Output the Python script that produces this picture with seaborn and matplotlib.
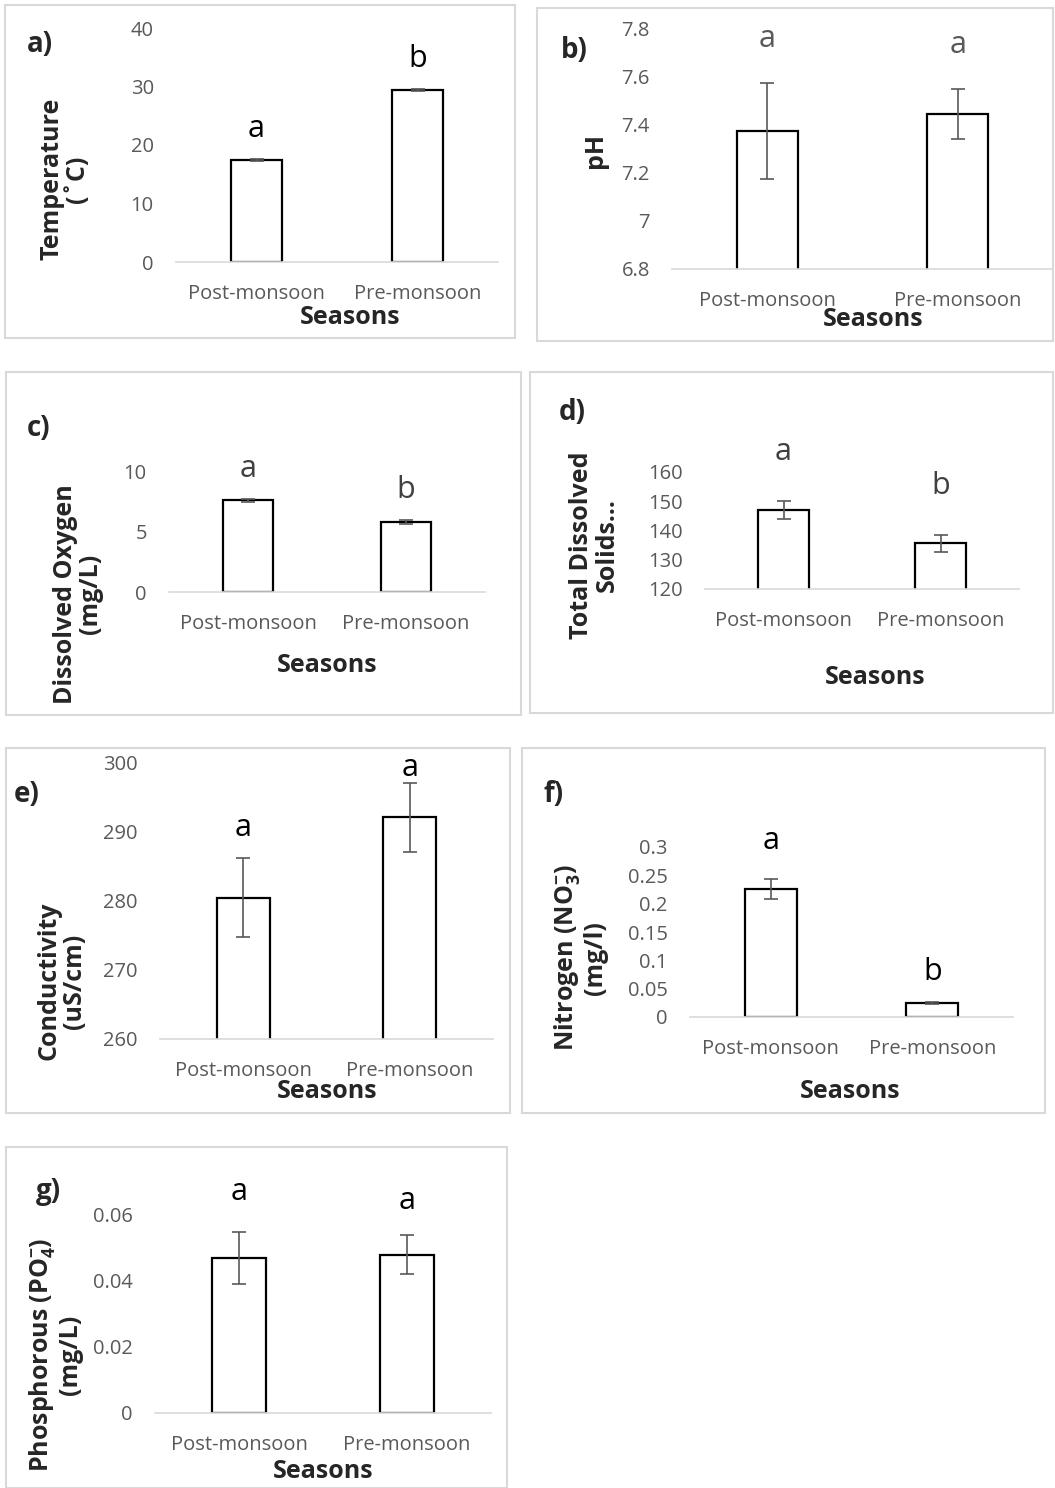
import matplotlib
matplotlib.use("Agg")
import matplotlib.pyplot as plt
from matplotlib.patches import Rectangle
from matplotlib.ticker import FuncFormatter
import seaborn as sns
import numpy as np
import pandas as pd

# data (mean +/- error bar) for each season
seasons = ["Post-monsoon", "Pre-monsoon"]

temp_mean = [17.4, 29.4]
temp_err = [0.2, 0.2]
temp_sig = ["a", "b"]

ph_mean = [7.375, 7.447]
ph_err = [0.2, 0.105]
ph_sig = ["a", "a"]

do_mean = [7.65, 5.85]
do_err = [0.12, 0.18]
do_sig = ["a", "b"]

tds_mean = [147.1, 135.6]
tds_err = [3.0, 2.9]
tds_sig = ["a", "b"]

cond_mean = [280.4, 292.0]
cond_err = [5.7, 4.95]
cond_sig = ["a", "a"]

no3_mean = [0.226, 0.025]
no3_err = [0.017, 0.002]
no3_sig = ["a", "b"]

po4_mean = [0.047, 0.048]
po4_err = [0.008, 0.006]
po4_sig = ["a", "a"]

W, H = 1055, 1488

sns.set_style("white")
plt.rcParams['font.family'] = ['Open Sans', 'DejaVu Sans']
plt.rcParams['mathtext.fontset'] = 'custom'
plt.rcParams['mathtext.rm'] = 'Open Sans'
plt.rcParams['mathtext.bf'] = 'Open Sans:bold'

fig = plt.figure(figsize=(W / 100, H / 100), dpi=100)


def fx(x):
    return x / W


def fy(y):
    return 1 - y / H


# layout in pixels: box (l, t, r, b), axes (l, r, top, bottom)
panels = [
    dict(tag="a)", box=(5, 5, 515, 338), ax=(176, 498, 28, 262), ylim=(0, 40), ticks=[0, 10, 20, 30, 40],
         mean=temp_mean, err=temp_err, sig=temp_sig, ylabel="Temperature\n(˚C)", ylab=(65, 179),
         seas=(350, 317), tagxy=(27, 45), off=30, sigc="black"),
    dict(tag="b)", box=(537, 8, 1053, 341), ax=(672, 1053, 29, 269), ylim=(6.8, 7.8), ticks=[6.8, 7.0, 7.2, 7.4, 7.6, 7.8],
         mean=ph_mean, err=ph_err, sig=ph_sig, ylabel="pH", ylab=(595, 150),
         seas=(873, 320), tagxy=(561, 50), off=44, sigc="#595959"),
    dict(tag="c)", box=(6, 372, 521, 715), ax=(169, 485, 472, 592), ylim=(0, 10), ticks=[0, 5, 10],
         mean=do_mean, err=do_err, sig=do_sig, ylabel="Dissolved Oxygen\n(mg/L)", ylab=(78, 594),
         seas=(327, 665), tagxy=(27, 428), off=30, sigc="#404040"),
    dict(tag="d)", box=(530, 372, 1053, 713), ax=(705, 1019, 472, 589), ylim=(120, 160), ticks=[120, 130, 140, 150, 160],
         mean=tds_mean, err=tds_err, sig=tds_sig, ylabel="Total Dissolved\nSolids...", ylab=(594, 545),
         seas=(875, 677), tagxy=(559, 413), off=49, sigc="#404040"),
    dict(tag="e)", box=(6, 748, 510, 1113), ax=(160, 493, 762, 1039), ylim=(260, 300), ticks=[260, 270, 280, 290, 300],
         mean=cond_mean, err=cond_err, sig=cond_sig, ylabel="Conductivity\n(uS/cm)", ylab=(62, 981),
         seas=(327, 1092), tagxy=(14, 795), off=[30, 15], sigc="black"),
    dict(tag="f)", box=(522, 748, 1045, 1113), ax=(690, 1013, 847, 1017), ylim=(0, 0.3),
         ticks=[0, 0.05, 0.1, 0.15, 0.2, 0.25, 0.3],
         mean=no3_mean, err=no3_err, sig=no3_sig,
         ylabel="Nitrogen (NO$_\\mathbf{3}^{\\mathbf{-}}$)\n(mg/l)", ylab=(580, 958),
         seas=(850, 1092), tagxy=(544, 795), off=[38, 30], sigc="black"),
    dict(tag="g)", box=(6, 1147, 507, 1488), ax=(155, 491, 1215, 1413), ylim=(0, 0.06), ticks=[0, 0.02, 0.04, 0.06],
         mean=po4_mean, err=po4_err, sig=po4_sig,
         ylabel="Phosphorous (PO$_\\mathbf{4}^{\\mathbf{-}}$)\n(mg/L)", ylab=(55, 1355),
         seas=(323, 1471), tagxy=(36, 1191), off=[39, 34], sigc="black"),
]

fmt = FuncFormatter(lambda v, p: "{:g}".format(round(v, 4)))

for p in panels:
    # grey frame around each chart
    bl, bt, br, bb = p["box"]
    fig.add_artist(Rectangle((fx(bl), fy(bb)), (br - bl) / W, (bb - bt) / H, transform=fig.transFigure,
                             fill=False, edgecolor="#d9d9d9", lw=1.5))

    l, r, t, b = p["ax"]
    ax = fig.add_axes([fx(l), fy(b), (r - l) / W, (b - t) / H])
    df = pd.DataFrame({"Season": seasons, "Value": p["mean"]})
    sns.barplot(data=df, x="Season", y="Value", ax=ax, width=0.32, color="white", saturation=1,
                edgecolor="black", linewidth=1.6, errorbar=None)
    ax.errorbar(np.arange(2), p["mean"], yerr=p["err"], fmt="none", ecolor="#595959",
                elinewidth=1.2, capsize=5, capthick=1.2)
    ax.set_xlim(-0.5, 1.5)
    ax.set_ylim(*p["ylim"])
    ax.set_yticks(p["ticks"])
    ax.yaxis.set_major_formatter(fmt)
    ax.set_xlabel("")
    ax.set_ylabel("")
    for s in ["left", "top", "right"]:
        ax.spines[s].set_visible(False)
    ax.spines["bottom"].set_color("#d9d9d9")
    ax.spines["bottom"].set_linewidth(1.2)
    ax.tick_params(axis="both", length=0, labelsize=14.5, colors="#595959")
    ax.tick_params(axis="x", pad=16)
    ax.tick_params(axis="y", pad=16)
    ax.patch.set_alpha(0)

    offs = p["off"] if isinstance(p["off"], list) else [p["off"]] * 2
    for i in range(2):
        ax.annotate(p["sig"][i], xy=(i, p["mean"][i] + p["err"][i]), xytext=(0, offs[i] * 0.72),
                    textcoords="offset points", ha="center", va="center", fontsize=22,
                    color=p["sigc"], annotation_clip=False)

    fig.text(fx(p["ylab"][0]), fy(p["ylab"][1]), p["ylabel"], rotation=90, ha="center", va="center",
             multialignment="center", fontsize=18, fontweight="bold", linespacing=1.05)
    fig.text(fx(p["seas"][0]), fy(p["seas"][1]), "Seasons", ha="center", va="center",
             fontsize=18, fontweight="bold")
    fig.text(fx(p["tagxy"][0]), fy(p["tagxy"][1]), p["tag"], ha="left", va="center",
             fontsize=20, fontweight="bold")

fig.savefig("out.png", dpi=100)
